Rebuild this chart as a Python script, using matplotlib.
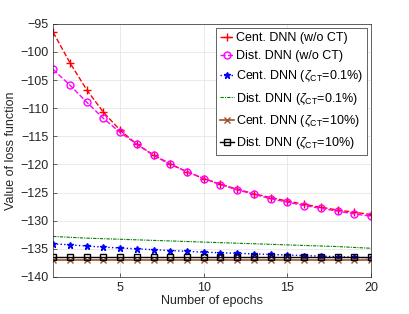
import numpy as np
import matplotlib
matplotlib.use("Agg")
import matplotlib.pyplot as plt

plt.rcParams["font.family"] = ["Liberation Sans", "DejaVu Sans"]
plt.rcParams["mathtext.fontset"] = "custom"
plt.rcParams["mathtext.rm"] = "Liberation Sans"
plt.rcParams["mathtext.it"] = "Liberation Sans:italic"

# ============================================================
# Data
# ============================================================

epochs = np.arange(1, 21)

cent_wo = [-96.5, -101.9, -106.7, -110.7, -113.9, -116.4, -118.3, -119.9, -121.3, -122.5,
           -123.5, -124.4, -125.2, -125.9, -126.5, -127.1, -127.6, -128.1, -128.5, -128.9]
dist_wo = [-103.1, -105.9, -108.9, -111.8, -114.3, -116.4, -118.4, -120.0, -121.3, -122.5,
           -123.6, -124.5, -125.3, -126.1, -126.7, -127.3, -127.8, -128.3, -128.8, -129.2]
cent_01 = [-134.1, -134.3, -134.5, -134.7, -134.85, -135.0, -135.15, -135.3, -135.45, -135.6,
           -135.7, -135.8, -135.9, -136.0, -136.1, -136.2, -136.3, -136.4, -136.5, -136.6]
dist_01 = [-132.8, -132.95, -133.1, -133.2, -133.3, -133.4, -133.5, -133.6, -133.7, -133.8,
           -133.9, -134.0, -134.1, -134.2, -134.3, -134.4, -134.5, -134.6, -134.75, -134.9]
cent_10 = [-136.9] * 20
dist_10 = [-136.5] * 20

labels = [
    "Cent. DNN (w/o CT)",
    "Dist. DNN (w/o CT)",
    r"Cent. DNN ($\zeta_{\rm CT}$=0.1%)",
    r"Dist. DNN ($\zeta_{\rm CT}$=0.1%)",
    r"Cent. DNN ($\zeta_{\rm CT}$=10%)",
    r"Dist. DNN ($\zeta_{\rm CT}$=10%)",
]

fig = plt.figure(figsize=(4.09, 3.14), dpi=100)
ax = fig.add_axes([0.130, 0.118, 0.777, 0.806])

ax.plot(epochs, cent_wo, color="#ff0000", ls="--", marker="+", ms=6, mew=1.0, lw=1.0, label=labels[0])
ax.plot(epochs, dist_wo, color="#ff00ff", ls="--", marker="o", ms=5, mfc="none", mew=1.0, lw=1.0, label=labels[1])
ax.plot(epochs, cent_01, color="#0000ff", ls=":", marker="*", ms=5, lw=1.0, label=labels[2])
ax.plot(epochs, dist_01, color="#008000", ls="-.", lw=0.8, dashes=(3, 1, 1, 1), label=labels[3])
ax.plot(epochs, cent_10, color="#a0522d", ls="-", marker="x", ms=4, lw=1.2, label=labels[4])
ax.plot(epochs, dist_10, color="black", ls="-", marker="s", ms=4, mfc="none", lw=1.0, label=labels[5])

ax.set_xlim(1, 20)
ax.set_ylim(-140, -95)
ax.set_xticks([5, 10, 15, 20])
ax.set_yticks(np.arange(-140, -94, 5))
ax.grid(True, color="#e6e6e6", lw=0.6)
ax.set_axisbelow(True)
ax.tick_params(direction="in", labelsize=9, colors="#262626", length=3, width=0.5)
for s in ax.spines.values():
    s.set_color("#262626")
    s.set_linewidth(0.5)

ax.set_xlabel("Number of epochs", fontsize=9, color="#262626", labelpad=1)
ax.set_ylabel("Value of loss function", fontsize=9, color="#262626", labelpad=2)

leg = ax.legend(loc="upper right", fontsize=9, handlelength=1.1, handletextpad=0.15,
                borderpad=0.3, labelspacing=0.5, borderaxespad=0.35, fancybox=False,
                framealpha=1, edgecolor="#262626")
leg.get_frame().set_linewidth(0.5)

fig.savefig("out.png", dpi=100)
